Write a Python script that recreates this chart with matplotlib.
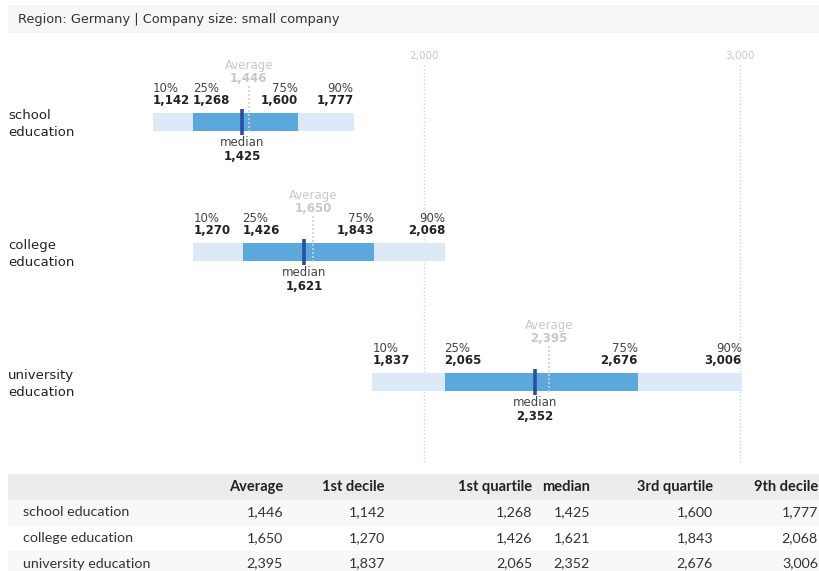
import matplotlib.pyplot as plt
from matplotlib.patches import Rectangle

# data
groups = ["school education", "college education", "university education"]
row_labels = ["school\neducation", "college\neducation", "university\neducation"]
average = [1446, 1650, 2395]
p10 = [1142, 1270, 1837]
p25 = [1268, 1426, 2065]
median = [1425, 1621, 2352]
p75 = [1600, 1843, 2676]
p90 = [1777, 2068, 3006]
ticks = [2000, 3000]
columns = ["Average", "1st decile", "1st quartile", "median", "3rd quartile", "9th decile"]

W, H = 819, 571
FONT = "DejaVu Sans"
TFONT = "Lato"


def fmt(v):
    return f"{v:,}"


def main():
    fig = plt.figure(figsize=(W / 100, H / 100), dpi=100)
    fig.patch.set_facecolor("white")

    # chart axes: x in values, y in pixels
    ax = fig.add_axes([0, 0, 1, 1])
    px_per_unit = 0.316
    ax.set_xlim(2000 - 424 / px_per_unit, 2000 + (W - 424) / px_per_unit)
    ax.set_ylim(H, 0)
    ax.axis("off")

    # overlay in pixel coords for header / table
    pax = fig.add_axes([0, 0, 1, 1], facecolor="none")
    pax.set_xlim(0, W)
    pax.set_ylim(H, 0)
    pax.axis("off")

    # header
    pax.add_patch(Rectangle((8, 5), W - 8, 28, color="#f5f6f8", lw=0, zorder=0))
    pax.text(18, 19, "Region: Germany | Company size: small company", fontsize=9.3,
             color="#333333", va="center", family=FONT)

    # grid
    for t in ticks:
        ax.plot([t, t], [65, 462], color="#d5d5d5", lw=1, ls=(0, (1, 1.5)), zorder=1)
        ax.text(t, 56, fmt(t), ha="center", va="center", fontsize=7.5, color="#c8c8c8", family=FONT)

    centers = [122, 252, 382]
    for i, cy in enumerate(centers):
        pax.text(8, cy + 2, row_labels[i], fontsize=9.5, color="#222222", va="center",
                 linespacing=1.45, family=FONT)

        ax.add_patch(Rectangle((p10[i], cy - 9), p90[i] - p10[i], 18, color="#dceaf7", lw=0, zorder=2))
        ax.add_patch(Rectangle((p25[i], cy - 9), p75[i] - p25[i], 18, color="#5aa8dc", lw=0, zorder=3))
        ax.plot([average[i]] * 2, [cy - 36, cy + 10], color="#d0d0d0", lw=1.2,
                ls=(0, (1.2, 1.2)), zorder=4)
        ax.plot([median[i]] * 2, [cy - 13, cy + 13], color="#2a4ea0", lw=2.6,
                solid_capstyle="butt", zorder=5)

        # average label
        ax.text(average[i], cy - 56, "Average", ha="center", va="center", fontsize=8.5,
                color="#c8c8c8", family=FONT)
        ax.text(average[i], cy - 44, fmt(average[i]), ha="center", va="center", fontsize=8.5,
                color="#c8c8c8", fontweight="bold", family=FONT)

        # percentile labels
        for val, lab, ha in [(p10[i], "10%", "left"), (p25[i], "25%", "left"),
                             (p75[i], "75%", "right"), (p90[i], "90%", "right")]:
            ax.text(val, cy - 34, lab, ha=ha, va="center", fontsize=8.5, color="#444444", family=FONT)
            ax.text(val, cy - 22, fmt(val), ha=ha, va="center", fontsize=8.5, color="#222222",
                    fontweight="bold", family=FONT)

        # median label
        ax.text(median[i], cy + 21, "median", ha="center", va="center", fontsize=8.5,
                color="#444444", family=FONT)
        ax.text(median[i], cy + 34, fmt(median[i]), ha="center", va="center", fontsize=8.5,
                color="#222222", fontweight="bold", family=FONT)

    # table
    pax.add_patch(Rectangle((8, 474), W - 8, 26, color="#ececec", lw=0, zorder=0))
    row_tops = [500, 525.5, 551]
    row_bg = ["#f8f8f8", "#ffffff", "#f8f8f8"]
    for top, bg in zip(row_tops, row_bg):
        pax.add_patch(Rectangle((8, top), W - 8, 25.5, color=bg, lw=0, zorder=0))

    col_right = [283, 385, 532, 590, 713, 818]
    for x, name in zip(col_right, columns):
        pax.text(x, 487, name, ha="right", va="center", fontsize=10.5, fontweight="bold",
                 color="#222222", family=TFONT)

    table_values = [average, p10, p25, median, p75, p90]
    for r, name in enumerate(groups):
        y = row_tops[r] + 12.5
        pax.text(23, y, name, ha="left", va="center", fontsize=10.3, color="#333333", family=TFONT)
        for x, series in zip(col_right, table_values):
            pax.text(x, y, fmt(series[r]), ha="right", va="center", fontsize=10.3,
                     color="#333333", family=TFONT)

    fig.savefig("out.png", dpi=100)


if __name__ == "__main__":
    main()
